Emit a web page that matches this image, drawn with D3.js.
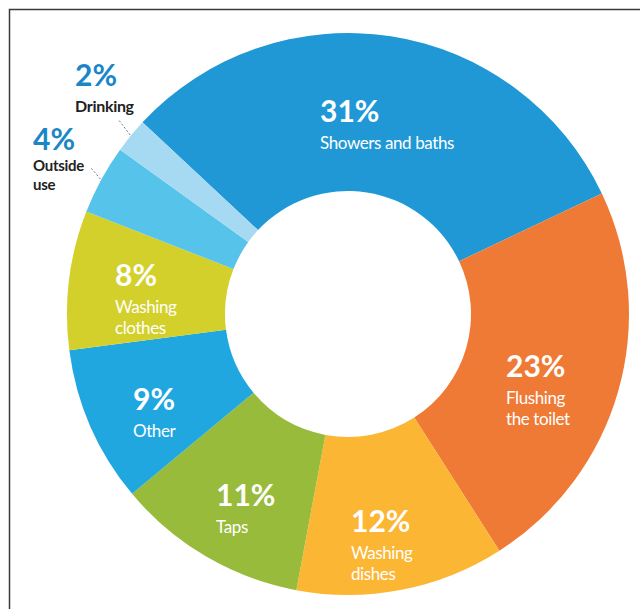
<!DOCTYPE html>
<html><head><meta charset="utf-8">
<script src="https://cdn.jsdelivr.net/npm/d3@7"></script>
<style>html,body{margin:0;padding:0;background:#fff;} svg{display:block}</style>
</head><body>
<svg id="chart" width="640" height="609"></svg>
<script>
// ---- data ----
const categories = ["Showers and baths","Flushing the toilet","Washing dishes","Taps","Other","Washing clothes","Outside use","Drinking"];
const values = [31, 23, 12, 11, 9, 8, 4, 2];
const labelLines = [["Showers and baths"],["Flushing","the toilet"],["Washing","dishes"],["Taps"],["Other"],["Washing","clothes"],["Outside","use"],["Drinking"]];

// ---- layout / style ----
const colors = ["#1f98d5","#ef7a35","#fbb634","#98bb3b","#20a7e0","#d3d02c","#56c3ea","#a6d9f2"];
const outsideLabel = [false,false,false,false,false,false,true,true];
const labelAnchors = [[320,122],[506,377],[351,532],[216,506],[133,410],[115,286],[33,150],[75,86]];
const leaderEnds = {6:[91,168], 7:[118,119]};
const cx = 348, cy = 314, rOuter = 281, rInner = 123;
const startDeg = -47;

const svg = d3.select("#chart");

// frame
svg.append("path").attr("d","M9.5,609 L9.5,9.5 L640,9.5")
  .attr("fill","none").attr("stroke","#3a3a3a").attr("stroke-width",1.5);

const pie = d3.pie().sort(null).value(d => d)
  .startAngle(startDeg*Math.PI/180).endAngle(startDeg*Math.PI/180 + 2*Math.PI);
const arcs = pie(values);
const arc = d3.arc().innerRadius(rInner).outerRadius(rOuter);

const g = svg.append("g").attr("transform",`translate(${cx},${cy})`);
g.selectAll("path.slice").data(arcs).join("path")
  .attr("class","slice")
  .attr("d", arc)
  .attr("fill",(d,i)=>colors[i]);

// leader lines for outside labels
arcs.forEach((a,i)=>{
  if(!outsideLabel[i]) return;
  const m = (a.startAngle + a.endAngle)/2;
  const x1 = cx + Math.sin(m)*(rOuter+1), y1 = cy - Math.cos(m)*(rOuter+1);
  const [x2,y2] = leaderEnds[i];
  svg.append("line").attr("x1",x1).attr("y1",y1).attr("x2",x2).attr("y2",y2)
    .attr("stroke","#777").attr("stroke-width",1).attr("stroke-dasharray","2,2");
});

// labels
const font = "Lato, 'Open Sans', sans-serif";
arcs.forEach((a,i)=>{
  const [x,y] = labelAnchors[i];
  const out = outsideLabel[i];
  svg.append("text").attr("x",x).attr("y",y)
    .attr("font-family",font).attr("font-weight",700)
    .attr("font-size",30).attr("fill", out ? "#1a86c8" : "#ffffff")
    .text(values[i] + "%");
  const lines = labelLines[i];
  const first = out ? (i===7 ? 26 : 21) : 27;
  const lh = out ? 19 : 21;
  lines.forEach((ln,k)=>{
    svg.append("text").attr("x",x).attr("y",y+first+k*lh)
      .attr("font-family",font).attr("font-weight", out ? 700 : 400)
      .attr("font-size", out ? (i===7 ? 16 : 15) : 17)
      .attr("letter-spacing", out ? -0.3 : -0.4)
      .attr("fill", out ? "#222" : "#ffffff")
      .text(ln);
  });
});
</script>
</body></html>
